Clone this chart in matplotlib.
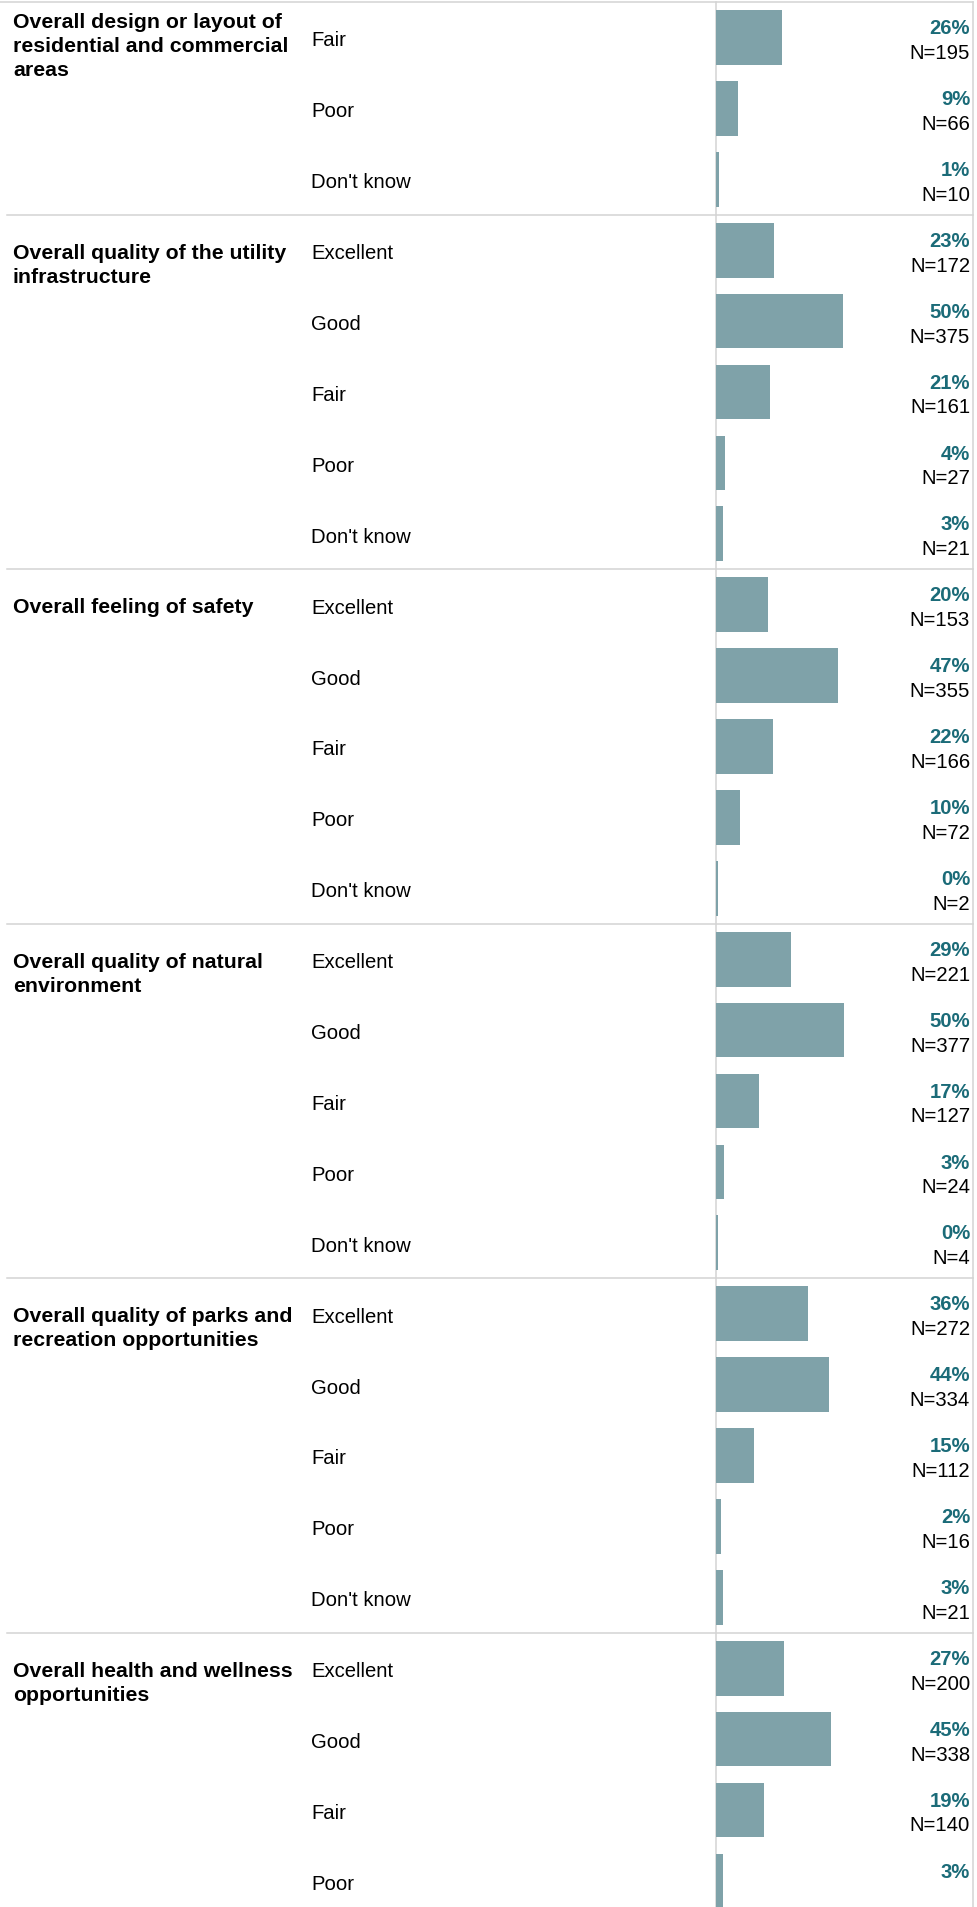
#!/usr/bin/env python3
"""Survey ratings table: one horizontal bar per response, grouped by question."""
import matplotlib
matplotlib.use("Agg")
import matplotlib.pyplot as plt
from matplotlib import transforms

# ---- data ----
GROUP_LABELS = [
    "Overall design or layout of\nresidential and commercial\nareas",
    "Overall quality of the utility\ninfrastructure",
    "Overall feeling of safety",
    "Overall quality of natural\nenvironment",
    "Overall quality of parks and\nrecreation opportunities",
    "Overall health and wellness\nopportunities",
]
GROUP_RESPONSES = [
    ["Fair", "Poor", "Don't know"],
    ["Excellent", "Good", "Fair", "Poor", "Don't know"],
    ["Excellent", "Good", "Fair", "Poor", "Don't know"],
    ["Excellent", "Good", "Fair", "Poor", "Don't know"],
    ["Excellent", "Good", "Fair", "Poor", "Don't know"],
    ["Excellent", "Good", "Fair", "Poor"],
]
# percentage labels as printed
PCT_LABELS = [
    [26, 9, 1],
    [23, 50, 21, 4, 3],
    [20, 47, 22, 10, 0],
    [29, 50, 17, 3, 0],
    [36, 44, 15, 2, 3],
    [27, 45, 19, 3],
]
# bar lengths (unrounded shares, %)
BAR_SHARES = [
    [26.0, 8.8, 1.3],
    [22.8, 49.6, 21.3, 3.6, 2.8],
    [20.5, 47.5, 22.2, 9.6, 0.8],
    [29.3, 50.1, 16.9, 3.2, 0.8],
    [36.0, 44.2, 14.8, 2.1, 2.8],
    [26.7, 45.1, 18.7, 3.0],
]
COUNTS = [
    [195, 66, 10],
    [172, 375, 161, 27, 21],
    [153, 355, 166, 72, 2],
    [221, 377, 127, 24, 4],
    [272, 334, 112, 16, 21],
    [200, 338, 140, None],  # last N is cut off at the bottom edge
]

# ---- layout (pixels) ----
W, H, DPI = 977, 1908, 100
TOP = 3.0          # y of the top rule
ROW_PX = 70.9      # height of one response row
BAR_X0, BAR_X1 = 715.5, 972.7
GROUP_X, RESP_X, VAL_X = 13, 311, 970
BAR_COLOR = "#7fa2a9"
PCT_COLOR = "#1b6b78"
RULE_COLOR = "#d3d3d3"
FONT = 14.6
GROUP_FONT = 15.3
LINE_PX = 24.0     # line pitch of wrapped group labels

plt.rcParams["font.family"] = ["Liberation Sans", "DejaVu Sans"]

fig = plt.figure(figsize=(W / DPI, H / DPI), dpi=DPI)
n_rows_visible = (H - TOP) / ROW_PX
ax = fig.add_axes([BAR_X0 / W, 0, (BAR_X1 - BAR_X0) / W, (H - TOP) / H])
ax.set_xlim(0, 100)
ax.set_ylim(n_rows_visible, 0)
ax.set_xticks([])
ax.set_yticks([])
for side in ("top", "bottom"):
    ax.spines[side].set_visible(False)
for side in ("left", "right"):
    ax.spines[side].set_color(RULE_COLOR)
    ax.spines[side].set_linewidth(1.1)
    ax.spines[side].set_zorder(0.5)

trans = transforms.blended_transform_factory(fig.transFigure, ax.transData)


def px(v):
    """pixel offset -> rows"""
    return v / ROW_PX


# top rule
ax.plot([0, BAR_X1 / W], [0, 0], transform=trans, color=RULE_COLOR,
        lw=1.1, clip_on=False, zorder=0.5)

row = 0
for g, label in enumerate(GROUP_LABELS):
    start = row
    if g > 0:
        ax.plot([7 / W, BAR_X1 / W], [start, start], transform=trans,
                color=RULE_COLOR, lw=1.1, clip_on=False, zorder=0.5)
        first_line = start + 0.5            # first line level with first response
    else:
        first_line = start + px(17)         # continued group: label sits at the page top
    for k, line in enumerate(label.split("\n")):
        ax.text(GROUP_X / W, first_line + px(7.5 + k * LINE_PX), line,
                transform=trans, fontsize=GROUP_FONT, fontweight="bold",
                ha="left", va="baseline")
    for resp, pct, share, n in zip(GROUP_RESPONSES[g], PCT_LABELS[g],
                                   BAR_SHARES[g], COUNTS[g]):
        yc = row + 0.5
        ax.barh(yc, share, height=54.7 / ROW_PX, left=0, color=BAR_COLOR,
                zorder=3)
        ax.text(RESP_X / W, yc + px(8.0), resp, transform=trans,
                fontsize=FONT, ha="left", va="baseline")
        ax.text(VAL_X / W, yc - px(4.3), f"{pct}%", transform=trans,
                fontsize=FONT, fontweight="bold", color=PCT_COLOR,
                ha="right", va="baseline")
        if n is not None:
            ax.text(VAL_X / W, yc + px(20.5), f"N={n}", transform=trans,
                    fontsize=FONT, ha="right", va="baseline")
        row += 1

fig.savefig("out.png", dpi=DPI)
